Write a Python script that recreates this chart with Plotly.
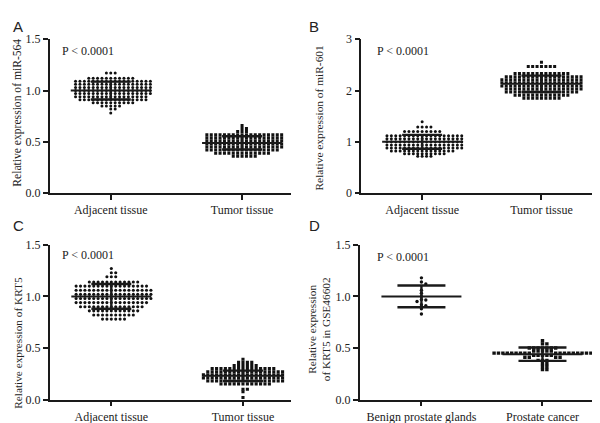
import numpy as np
import plotly.graph_objects as go

W, H = 600, 423

# ---------------- data ----------------
# Panel A: miR-564
a_categories = ["Adjacent tissue", "Tumor tissue"]
a_adj_levels = [1.17, 1.12, 1.09, 1.06, 1.03, 1.00, 0.97, 0.94, 0.91, 0.88, 0.85, 0.82, 0.78]
a_adj_counts = [3, 11, 18, 18, 18, 18, 18, 17, 16, 10, 5, 2, 1]
a_tum_levels = [0.66, 0.63, 0.60, 0.57, 0.54, 0.51, 0.48, 0.45, 0.42, 0.39, 0.36]
a_tum_counts = [1, 2, 3, 18, 18, 18, 18, 18, 17, 13, 6]
a_mean = [1.00, 0.49]
a_sd = [0.087, 0.065]

# Panel B: miR-601
b_categories = ["Adjacent tissue", "Tumor tissue"]
b_adj_levels = [1.39, 1.29, 1.20, 1.12, 1.06, 1.00, 0.94, 0.88, 0.82, 0.77, 0.72]
b_adj_counts = [1, 4, 9, 18, 18, 18, 18, 18, 15, 10, 4]
b_tum_levels = [2.55, 2.47, 2.33, 2.27, 2.21, 2.15, 2.09, 2.03, 1.97, 1.91, 1.85]
b_tum_counts = [1, 7, 13, 18, 19, 19, 19, 18, 17, 13, 9]
b_mean = [1.00, 2.13]
b_sd = [0.135, 0.16]

# Panel C: KRT5
c_categories = ["Adjacent tissue", "Tumor tissue"]
c_adj_levels = [1.27, 1.23, 1.19, 1.14, 1.10, 1.06, 1.02, 0.98, 0.94, 0.90, 0.86, 0.82, 0.78]
c_adj_counts = [1, 2, 3, 12, 17, 18, 18, 18, 17, 15, 12, 10, 6]
c_tum_levels = [0.39, 0.36, 0.33, 0.30, 0.27, 0.24, 0.21, 0.18, 0.15, 0.10, 0.075, 0.02]
c_tum_counts = [1, 4, 6, 15, 18, 19, 19, 18, 12, 2, 1, 1]
c_mean = [1.00, 0.23]
c_sd = [0.12, 0.05]

# Panel D: KRT5 in GSE46602
d_categories = ["Benign prostate glands", "Prostate cancer"]
d_benign = [1.18, 1.14, 1.12, 1.06, 1.03, 1.00, 0.97, 0.965, 0.95, 0.92, 0.91, 0.88, 0.83]
d_cancer_levels = [0.57, 0.54, 0.50, 0.47, 0.45, 0.43, 0.41, 0.38, 0.35, 0.32, 0.29]
d_cancer_counts = [1, 2, 7, 5, 18, 5, 4, 3, 2, 2, 2]
d_mean = [1.00, 0.44]
d_sd = [0.105, 0.065]

p_text = "P < 0.0001"

# ---------------- layout helpers ----------------
SERIF = "Liberation Serif, Times New Roman, serif"
SANS = "Liberation Sans, Arial, sans-serif"
INK = "#1a1a1a"


def swarm(vals, ppu_x, ppu_y, step=4.4, dmin=2.6):
    placed, out = [], []
    for v in vals:
        y = v * ppu_y
        k = 0
        while True:
            c = 0.0 if k == 0 else ((k + 1) // 2) * step * (1 if k % 2 else -1)
            if all((c - px) ** 2 + (y - py) ** 2 >= dmin ** 2 for px, py in placed):
                break
            k += 1
        placed.append((c, y))
        out.append(c / ppu_x)
    return np.array(out)


panels = [
    dict(name="A", px=(41.7, 283.3), py=(25.0, 184.3), xr=(-0.465, 1.375), yr=(0, 1.5),
         yt=[0, 0.5, 1.0, 1.5], fmt=".1f", cats=a_categories,
         groups=[np.repeat(a_adj_levels, a_adj_counts), np.repeat(a_tum_levels, a_tum_counts)],
         mean=a_mean, sd=a_sd, title="Relative expression of miR-564", tx=10, ty=101, tsize=11.6,
         letter=(3, 12), ptxt=(52, 37), cap=20, msize=3.0),
    dict(name="B", px=(353.3, 596.7), py=(25.0, 184.3), xr=(-0.51, 1.53), yr=(0, 3),
         yt=[0, 1, 2, 3], fmt="d", cats=b_categories,
         groups=[np.repeat(b_adj_levels, b_adj_counts), np.repeat(b_tum_levels, b_tum_counts)],
         mean=b_mean, sd=b_sd, title="Relative expression of miR-601", tx=311, ty=106, tsize=11.4,
         letter=(299, 12), ptxt=(367, 37), cap=20, msize=3.0),
    dict(name="C", px=(41.7, 283.3), py=(237.7, 397.7), xr=(-0.468, 1.367), yr=(0, 1.5),
         yt=[0, 0.5, 1.0, 1.5], fmt=".1f", cats=c_categories,
         groups=[np.repeat(c_adj_levels, c_adj_counts), np.repeat(c_tum_levels, c_tum_counts)],
         mean=c_mean, sd=c_sd, title="Relative expression of KRT5", tx=10, ty=339, tsize=11.3,
         letter=(3, 218), ptxt=(52, 248), cap=20, msize=3.1),
    dict(name="D", px=(351.7, 595.0), py=(237.7, 397.7), xr=(-0.51, 1.50), yr=(0, 1.5),
         yt=[0, 0.5, 1.0, 1.5], fmt=".1f", cats=d_categories,
         groups=[np.array(d_benign), np.repeat(d_cancer_levels, d_cancer_counts)],
         mean=d_mean, sd=d_sd, title="Relative expression<br>of KRT5 in GSE46602", tx=311, ty=325,
         tsize=11.3, letter=(299, 218), ptxt=(367, 250), cap=24, msize=3.4),
]

fig = go.Figure()
annotations = []

for i, p in enumerate(panels):
    n = "" if i == 0 else str(i + 1)
    xa, ya = "x" + n, "y" + n
    ppu_x = (p["px"][1] - p["px"][0]) / (p["xr"][1] - p["xr"][0])
    ppu_y = (p["py"][1] - p["py"][0]) / (p["yr"][1] - p["yr"][0])

    for g, vals in enumerate(p["groups"]):
        offs = swarm(vals, ppu_x, ppu_y)
        fig.add_trace(go.Scatter(
            x=g + offs, y=vals, mode="markers", xaxis=xa, yaxis=ya, showlegend=False,
            marker=dict(symbol="circle" if g == 0 else "square", size=p["msize"], color="#111",
                        line=dict(width=0)),
            hoverinfo="skip"))
    for g in range(2):
        m, s = p["mean"][g], p["sd"][g]
        w = 40 / ppu_x
        c = p["cap"] / ppu_x
        fig.add_trace(go.Scatter(
            x=[g - w, g + w], y=[m, m], mode="lines", xaxis=xa, yaxis=ya, showlegend=False,
            line=dict(color=INK, width=2), hoverinfo="skip"))
        fig.add_trace(go.Scatter(
            x=[g - c, g + c, None, g - c, g + c, None, g, g],
            y=[m + s, m + s, None, m - s, m - s, None, m - s, m + s],
            mode="lines", xaxis=xa, yaxis=ya, showlegend=False,
            line=dict(color=INK, width=2.4), hoverinfo="skip"))

    axcommon = dict(showline=True, linecolor=INK, linewidth=1.6, ticks="outside", ticklen=5,
                    tickwidth=1.5, tickcolor=INK, showgrid=False, zeroline=False,
                    tickfont=dict(family=SERIF, size=12, color="#222"))
    fig.update_layout({
        "xaxis" + n: dict(domain=[p["px"][0] / W, p["px"][1] / W], range=list(p["xr"]),
                          tickvals=[0, 1], ticktext=p["cats"], anchor=ya, **axcommon),
        "yaxis" + n: dict(domain=[1 - p["py"][1] / H, 1 - p["py"][0] / H], range=list(p["yr"]),
                          tickvals=p["yt"], tickformat=p["fmt"], anchor=xa, **axcommon),
    })

    annotations.append(dict(text=p["title"], x=p["tx"] / W, y=1 - p["ty"] / H, xref="paper",
                            yref="paper", textangle=-90, showarrow=False, xanchor="center",
                            yanchor="middle", font=dict(family=SERIF, size=p["tsize"], color="#222")))
    annotations.append(dict(text=p["name"], x=p["letter"][0] / W, y=1 - p["letter"][1] / H,
                            xref="paper", yref="paper", showarrow=False, xanchor="left",
                            yanchor="middle", font=dict(family=SANS, size=15, color="#222")))
    annotations.append(dict(text=p_text, x=p["ptxt"][0] / W, y=1 - p["ptxt"][1] / H,
                            xref="paper", yref="paper", showarrow=False, xanchor="left",
                            yanchor="middle", font=dict(family=SERIF, size=12, color="#222")))

fig.update_layout(width=W, height=H, margin=dict(l=0, r=0, t=0, b=0), autosize=False,
                  paper_bgcolor="white", plot_bgcolor="white", annotations=annotations)

fig.write_html("out.html")
